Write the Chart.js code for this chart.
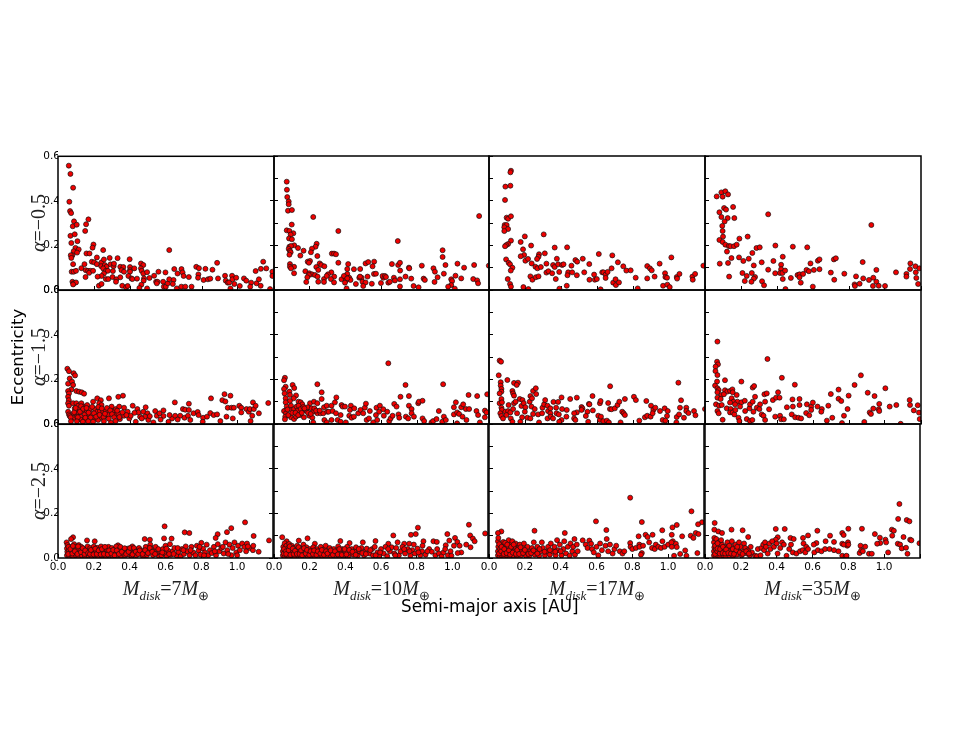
<!DOCTYPE html>
<html>
<head>
<meta charset="utf-8">
<title>Eccentricity vs semi-major axis</title>
<script src="https://cdn.jsdelivr.net/npm/chart.js@4"></script>
<style>
  html, body { margin: 0; padding: 0; background: #fff; }
  body { position: relative; width: 969px; height: 749px; overflow: hidden; }
  canvas { position: absolute; }
  .lbl { position: absolute; white-space: nowrap; color: #000; }
  .sans { font-family: "DejaVu Sans", sans-serif; font-size: 16.4px; }
  .math { font-family: "Liberation Serif", serif; font-size: 20px; color: #222; }
  .math sub { font-size: 13px; line-height: 0; }
  .alpha { transform: translate(-50%, -50%) rotate(-90deg); font-size: 20px; }
  .mass { transform: translateX(-50%); }
</style>
</head>
<body>
<script>
// [semi-major axis, eccentricity], row = alpha, column = disk mass
const a05_m7 = [[.06,.558],[.069,.521],[.084,.459],[.063,.396],[.067,.354],[.073,.345],[.089,.308],[.082,.286],[.104,.293],[.069,.243],[.093,.25],[.169,.317],[.156,.295],[.151,.265],[.074,.211],[.108,.219],[.097,.189],[.115,.182],[.087,.174],[.106,.168],[.08,.156],[.071,.156],[.074,.144],[.084,.116],[.076,.082],[.087,.082],[.1,.086],[.08,.037],[.087,.03],[.1,.034],[.084,.025],[.197,.204],[.192,.19],[.158,.164],[.175,.164],[.251,.179],[.216,.146],[.13,.098],[.147,.116],[.154,.089],[.167,.086],[.18,.086],[.173,.077],[.195,.086],[.153,.058],[.188,.127],[.201,.124],[.216,.116],[.242,.124],[.255,.137],[.287,.144],[.331,.143],[.24,.107],[.26,.112],[.27,.104],[.251,.097],[.266,.086],[.277,.086],[.255,.074],[.242,.063],[.266,.049],[.22,.06],[.227,.019],[.242,.027],[.279,.049],[.292,.115],[.309,.107],[.311,.118],[.305,.085],[.303,.058],[.324,.048],[.322,.037],[.346,.057],[.346,.104],[.363,.103],[.353,.089],[.367,.082],[.398,.138],[.4,.103],[.4,.089],[.4,.082],[.391,.063],[.408,.052],[.424,.097],[.413,.049],[.439,.051],[.357,.019],[.378,.012],[.387,.018],[.461,.119],[.474,.112],[.461,.097],[.465,.086],[.474,.074],[.478,.052],[.495,.08],[.476,.042],[.463,.024],[.452,.009],[.495,.007],[.508,.054],[.534,.064],[.558,.082],[.545,.037],[.553,.037],[.549,.03],[.584,.037],[.597,.079],[.588,.015],[.599,.015],[.61,.03],[.618,.048],[.642,.045],[.638,.027],[.646,.094],[.664,.074],[.66,.007],[.686,.094],[.692,.079],[.698,.063],[.685,.015],[.707,.015],[.618,.179],[.727,.058],[.742,.015],[.768,.104],[.783,.098],[.78,.07],[.778,.055],[.819,.095],[.809,.045],[.833,.048],[.846,.051],[.858,.091],[.884,.122],[.889,.052],[.928,.064],[.932,.042],[.943,.033],[.951,.034],[.958,.007],[.967,.064],[.969,.048],[.99,.055],[.98,.027],[1.01,.018],[1.033,.052],[1.046,.042],[1.073,.033],[1.068,.015],[1.098,.085],[1.103,.03],[1.116,.048],[1.126,.019],[1.127,.095],[1.14,.127],[1.157,.097],[1.178,.004],[1.191,.082],[1.191,.063]];
const a05_m10 = [[.071,.485],[.072,.449],[.074,.416],[.082,.396],[.082,.384],[.078,.355],[.1,.358],[.219,.327],[.099,.293],[.071,.267],[.086,.264],[.108,.254],[.093,.248],[.084,.231],[.1,.227],[.113,.2],[.086,.194],[.095,.197],[.134,.188],[.082,.184],[.089,.175],[.093,.169],[.086,.158],[.238,.207],[.232,.194],[.212,.185],[.206,.169],[.165,.176],[.147,.154],[.242,.152],[.359,.264],[.323,.163],[.335,.163],[.346,.16],[.359,.122],[.255,.119],[.264,.112],[.281,.106],[.236,.103],[.089,.116],[.112,.104],[.089,.104],[.095,.097],[.112,.075],[.188,.127],[.201,.13],[.195,.122],[.175,.084],[.197,.075],[.212,.07],[.229,.067],[.243,.06],[.195,.067],[.186,.057],[.18,.036],[.247,.037],[.247,.09],[.279,.049],[.279,.036],[.32,.079],[.301,.07],[.294,.063],[.336,.06],[.318,.049],[.335,.034],[.377,.048],[.396,.06],[.409,.072],[.409,.094],[.414,.116],[.39,.063],[.42,.055],[.401,.042],[.427,.045],[.409,.052],[.396,.033],[.446,.093],[.481,.094],[.457,.027],[.476,.055],[.489,.055],[.48,.06],[.494,.037],[.511,.034],[.498,.018],[.522,.06],[.511,.119],[.526,.125],[.559,.127],[.55,.106],[.558,.072],[.569,.073],[.546,.028],[.597,.031],[.61,.055],[.606,.063],[.619,.063],[.625,.058],[.638,.033],[.647,.037],[.658,.116],[.693,.112],[.703,.122],[.691,.219],[.704,.087],[.669,.055],[.675,.043],[.703,.048],[.703,.016],[.734,.06],[.753,.1],[.755,.097],[.766,.051],[.779,.018],[.807,.012],[.825,.109],[.835,.051],[.842,.045],[.89,.097],[.898,.082],[.896,.036],[.913,.057],[.941,.178],[.941,.148],[.957,.112],[.948,.073],[.989,.048],[.994,.04],[.989,.022],[.972,.015],[1.009,.006],[1.013,.064],[1.024,.118],[1.061,.1],[1.045,.052],[1.117,.112],[1.112,.049],[1.134,.043],[1.139,.03],[1.145,.331],[1.199,.109],[.405,.007]];
const a05_m17 = [[.122,.534],[.119,.527],[.091,.463],[.119,.467],[.089,.403],[.098,.324],[.106,.319],[.122,.33],[.087,.291],[.098,.291],[.085,.281],[.106,.273],[.085,.264],[.122,.221],[.106,.206],[.096,.201],[.089,.196],[.199,.24],[.176,.215],[.304,.249],[.234,.199],[.189,.182],[.365,.19],[.434,.191],[.31,.164],[.278,.16],[.275,.149],[.267,.139],[.195,.157],[.176,.151],[.202,.131],[.217,.139],[.095,.137],[.109,.122],[.117,.115],[.13,.1],[.121,.087],[.104,.049],[.117,.027],[.122,.015],[.191,.013],[.219,.004],[.237,.119],[.258,.104],[.269,.097],[.288,.103],[.319,.118],[.23,.061],[.241,.046],[.26,.057],[.275,.061],[.319,.078],[.33,.084],[.351,.075],[.356,.112],[.365,.103],[.377,.14],[.384,.115],[.39,.081],[.371,.049],[.406,.112],[.414,.115],[.44,.079],[.436,.066],[.432,.019],[.391,.006],[.458,.109],[.462,.079],[.48,.134],[.49,.127],[.488,.066],[.521,.14],[.529,.079],[.557,.116],[.558,.046],[.584,.069],[.588,.046],[.599,.049],[.61,.161],[.629,.079],[.636,.079],[.648,.069],[.648,.054],[.659,.081],[.62,.003],[.681,.097],[.685,.155],[.69,.033],[.703,.048],[.705,.022],[.722,.034],[.716,.124],[.746,.106],[.763,.087],[.787,.088],[.815,.055],[.826,.007],[.879,.107],[.879,.052],[.894,.097],[.904,.088],[.92,.06],[.948,.118],[.967,.019],[.978,.075],[.98,.058],[.989,.055],[.991,.024],[1.004,.013],[1.013,.146],[1.043,.058],[1.045,.051],[1.058,.072],[1.13,.06],[1.132,.046],[1.145,.072],[1.191,.109]];
const a05_m35 = [[.065,.419],[.091,.437],[.098,.418],[.113,.442],[.128,.428],[.106,.367],[.117,.36],[.156,.372],[.08,.348],[.091,.327],[.126,.322],[.109,.307],[.163,.322],[.096,.287],[.098,.264],[.1,.239],[.08,.224],[.098,.215],[.113,.203],[.132,.197],[.141,.196],[.161,.196],[.176,.203],[.191,.23],[.237,.239],[.122,.172],[.147,.143],[.189,.146],[.213,.13],[.243,.14],[.263,.166],[.286,.188],[.304,.191],[.351,.339],[.391,.199],[.488,.194],[.568,.191],[.38,.13],[.432,.149],[.315,.124],[.271,.11],[.082,.118],[.128,.121],[.134,.06],[.208,.076],[.232,.063],[.221,.04],[.26,.076],[.278,.058],[.271,.051],[.258,.037],[.351,.091],[.317,.039],[.328,.021],[.39,.075],[.423,.113],[.423,.093],[.417,.076],[.43,.076],[.445,.087],[.432,.049],[.447,.004],[.477,.054],[.514,.067],[.525,.07],[.525,.057],[.545,.072],[.532,.033],[.564,.09],[.577,.084],[.586,.119],[.605,.09],[.599,.015],[.627,.131],[.636,.137],[.636,.093],[.699,.078],[.716,.137],[.727,.142],[.718,.046],[.774,.073],[.831,.025],[.833,.018],[.839,.061],[.859,.028],[.876,.125],[.879,.052],[.911,.045],[.924,.291],[.935,.055],[.933,.018],[.952,.09],[.952,.037],[.965,.019],[1,.018],[1.061,.079],[1.119,.072],[1.119,.06],[1.141,.119],[1.169,.106],[1.139,.094],[1.171,.079],[1.191,.097],[1.174,.054],[1.184,.027]];

const a15_m7 = [[.052,.248],[.061,.237],[.087,.228],[.095,.218],[.065,.204],[.056,.181],[.078,.19],[.084,.175],[.074,.155],[.056,.148],[.061,.137],[.056,.122],[.06,.107],[.056,.093],[.061,.082],[.056,.055],[.061,.043],[.065,.036],[.076,.025],[.084,.093],[.093,.07],[.087,.048],[.102,.093],[.112,.082],[.102,.058],[.115,.048],[.093,.028],[.106,.033],[.121,.067],[.13,.093],[.143,.078],[.136,.058],[.149,.043],[.125,.033],[.102,.148],[.117,.145],[.132,.142],[.145,.136],[.13,.018],[.149,.018],[.162,.085],[.162,.058],[.173,.033],[.177,.067],[.186,.045],[.195,.1],[.218,.115],[.238,.107],[.229,.093],[.242,.085],[.205,.067],[.218,.055],[.233,.058],[.207,.025],[.223,.018],[.251,.055],[.266,.058],[.244,.028],[.26,.036],[.283,.115],[.279,.04],[.294,.007],[.298,.078],[.307,.058],[.322,.067],[.316,.04],[.34,.078],[.335,.048],[.335,.122],[.361,.127],[.367,.073],[.344,.022],[.367,.037],[.387,.055],[.396,.025],[.415,.082],[.404,.037],[.432,.01],[.441,.067],[.456,.033],[.447,.052],[.474,.055],[.487,.075],[.497,.048],[.484,.033],[.502,.018],[.53,.007],[.54,.058],[.549,.037],[.564,.048],[.586,.061],[.586,.036],[.614,.01],[.634,.025],[.649,.097],[.651,.037],[.679,.037],[.694,.067],[.707,.064],[.703,.028],[.727,.091],[.727,.063],[.722,.037],[.735,.018],[.753,.048],[.776,.054],[.781,.04],[.806,.028],[.804,.01],[.828,.033],[.85,.115],[.846,.049],[.865,.04],[.884,.043],[.902,.013],[.913,.107],[.925,.134],[.93,.101],[.958,.127],[.936,.033],[.943,.073],[.964,.073],[.977,.073],[.971,.025],[1.007,.082],[1.018,.073],[1.018,.052],[1.047,.067],[1.06,.055],[1.066,.067],[1.083,.097],[1.088,.067],[1.098,.082],[1.116,.048],[1.079,.037],[1.07,.013],[1.168,.094],
  [.07,.03],[.09,.053],[.098,.072],[.11,.03],[.122,.055],[.128,.08],[.14,.068],[.152,.028],[.158,.072],[.17,.051],[.181,.029],[.19,.077],[.2,.048],[.212,.033],[.224,.076],[.231,.041],[.243,.07],[.253,.031],[.261,.046],[.272,.072],[.282,.024],[.29,.061],[.3,.044],[.312,.03],[.329,.06],[.341,.031],[.358,.052],[.072,.012],[.105,.012],[.138,.01],[.168,.012],[.195,.01],[.255,.012],[.32,.013],[.38,.04],[.425,.05],[.465,.025],[.51,.035],[.57,.02],[.62,.04],[.665,.02]];
const a15_m10 = [[.061,.207],[.056,.196],[.065,.167],[.056,.157],[.104,.175],[.113,.161],[.059,.137],[.086,.145],[.089,.13],[.123,.128],[.065,.115],[.11,.115],[.089,.103],[.065,.097],[.071,.078],[.095,.082],[.061,.058],[.056,.058],[.067,.048],[.063,.033],[.061,.021],[.095,.03],[.112,.022],[.123,.033],[.099,.063],[.112,.067],[.126,.078],[.137,.1],[.149,.097],[.158,.088],[.137,.082],[.13,.058],[.149,.067],[.164,.076],[.173,.063],[.145,.04],[.167,.03],[.182,.058],[.201,.093],[.188,.075],[.21,.07],[.197,.037],[.219,.055],[.214,.028],[.219,.007],[.223,.1],[.242,.178],[.266,.142],[.266,.112],[.242,.093],[.242,.048],[.26,.048],[.279,.075],[.275,.048],[.281,.018],[.294,.007],[.294,.082],[.297,.055],[.305,.055],[.321,.082],[.327,.058],[.321,.018],[.34,.097],[.348,.119],[.346,.048],[.355,.018],[.372,.04],[.377,.085],[.383,.078],[.372,.01],[.396,.078],[.401,.007],[.42,.037],[.429,.082],[.424,.063],[.433,.028],[.446,.033],[.448,.07],[.47,.048],[.483,.063],[.498,.048],[.507,.073],[.513,.091],[.535,.058],[.517,.018],[.53,.025],[.554,.007],[.572,.073],[.576,.018],[.569,.04],[.591,.082],[.587,.055],[.61,.066],[.632,.055],[.638,.272],[.613,.037],[.643,.013],[.651,.025],[.671,.09],[.684,.078],[.662,.037],[.695,.043],[.699,.028],[.734,.175],[.706,.122],[.753,.125],[.753,.082],[.768,.067],[.736,.033],[.749,.025],[.768,.048],[.781,.033],[.805,.093],[.809,.1],[.829,.104],[.829,.025],[.838,.013],[.879,.007],[.888,.013],[.907,.022],[.92,.058],[.944,.178],[.939,.01],[.948,.033],[.959,.018],[1.004,.075],[1.015,.097],[1.004,.043],[1.022,.052],[1.022,.003],[1.033,.045],[1.045,.075],[1.056,.088],[1.052,.033],[1.071,.067],[1.089,.067],[1.074,.018],[1.086,.13],[1.134,.125],[1.13,.058],[1.139,.04],[1.149,.007],[1.177,.06],[1.19,.133],[1.186,.052],[1.177,.03],
  [.075,.065],[.08,.04],[.102,.05],[.12,.05],[.135,.04],[.155,.05],[.17,.07],[.19,.05],[.205,.045],[.225,.07],[.235,.06],[.255,.06]];
const a15_m17 = [[.059,.284],[.067,.279],[.054,.218],[.102,.197],[.139,.184],[.161,.185],[.154,.175],[.065,.187],[.065,.172],[.069,.157],[.069,.145],[.059,.137],[.13,.148],[.134,.137],[.139,.127],[.069,.112],[.059,.093],[.072,.097],[.069,.073],[.072,.063],[.063,.048],[.069,.036],[.078,.025],[.091,.055],[.109,.085],[.106,.058],[.097,.04],[.119,.052],[.121,.025],[.13,.01],[.134,.067],[.139,.093],[.148,.1],[.156,.048],[.174,.01],[.184,.03],[.171,.112],[.18,.081],[.186,.107],[.193,.093],[.202,.075],[.199,.055],[.213,.028],[.23,.025],[.226,.1],[.23,.125],[.239,.115],[.245,.148],[.26,.16],[.262,.134],[.236,.078],[.254,.067],[.245,.045],[.273,.043],[.278,.007],[.295,.048],[.297,.073],[.306,.088],[.312,.107],[.325,.082],[.328,.058],[.341,.07],[.341,.048],[.325,.025],[.343,.033],[.358,.099],[.384,.099],[.373,.073],[.375,.048],[.356,.025],[.388,.043],[.406,.067],[.403,.119],[.403,.018],[.39,.01],[.432,.063],[.43,.033],[.451,.112],[.488,.118],[.488,.052],[.473,.048],[.473,.025],[.48,.018],[.514,.076],[.519,.07],[.514,.063],[.547,.055],[.538,.036],[.555,.09],[.558,.088],[.551,.01],[.575,.125],[.577,.061],[.607,.037],[.616,.018],[.622,.033],[.616,.093],[.62,.103],[.635,.013],[.655,.015],[.666,.007],[.662,.094],[.673,.169],[.672,.067],[.681,.066],[.699,.07],[.714,.085],[.724,.1],[.74,.055],[.748,.048],[.755,.04],[.755,.112],[.731,.007],[.805,.122],[.816,.107],[.835,.015],[.874,.103],[.866,.03],[.879,.037],[.898,.033],[.9,.082],[.913,.063],[.924,.073],[.909,.048],[.95,.058],[.976,.07],[.965,.018],[.98,.015],[.993,.058],[.989,.036],[1.041,.007],[1.043,.031],[1.056,.043],[1.061,.073],[1.067,.106],[1.052,.185],[1.083,.028],[1.096,.073],[1.096,.058],[1.108,.049],[1.139,.058],[1.147,.039],[1.2,.067]];
const a15_m35 = [[.069,.369],[.067,.279],[.072,.267],[.059,.257],[.058,.237],[.069,.219],[.067,.19],[.111,.196],[.202,.19],[.347,.291],[.427,.207],[.499,.176],[.056,.172],[.069,.16],[.076,.152],[.069,.142],[.111,.151],[.124,.145],[.139,.148],[.152,.155],[.154,.142],[.176,.13],[.091,.13],[.069,.118],[.087,.112],[.105,.133],[.148,.115],[.158,.1],[.18,.1],[.202,.097],[.221,.104],[.061,.088],[.078,.082],[.093,.085],[.139,.096],[.167,.088],[.069,.058],[.076,.048],[.121,.07],[.143,.067],[.139,.052],[.154,.052],[.163,.043],[.169,.063],[.098,.019],[.186,.028],[.191,.013],[.195,.078],[.223,.058],[.232,.022],[.247,.07],[.25,.088],[.265,.1],[.278,.122],[.265,.163],[.273,.17],[.25,.013],[.263,.018],[.269,.055],[.288,.073],[.302,.067],[.306,.088],[.315,.043],[.325,.037],[.334,.018],[.33,.133],[.343,.137],[.334,.1],[.356,.066],[.377,.107],[.39,.033],[.395,.118],[.414,.118],[.406,.142],[.417,.037],[.423,.021],[.438,.021],[.455,.075],[.482,.043],[.486,.11],[.488,.078],[.501,.03],[.519,.028],[.534,.025],[.525,.112],[.525,.085],[.562,.049],[.566,.088],[.579,.039],[.59,.078],[.59,.063],[.599,.096],[.625,.078],[.649,.067],[.646,.055],[.677,.015],[.685,.082],[.699,.134],[.707,.028],[.742,.154],[.742,.113],[.757,.103],[.761,.004],[.772,.037],[.792,.067],[.798,.127],[.831,.175],[.866,.218],[.885,.009],[.904,.14],[.915,.052],[.922,.045],[.935,.069],[.942,.125],[.968,.09],[.965,.066],[.968,.058],[1.002,.16],[1.026,.078],[1.063,.085],[1.087,.001],[1.137,.107],[1.139,.085],[1.16,.061],[1.182,.084],[1.189,.051],[1.193,.022]];

const a25_m7 = [[.595,.142],[.707,.115],[.733,.112],[.891,.107],[.88,.09],[.943,.116],[.967,.134],[1.044,.16],[1.092,.099],[1.178,.079],[.484,.085],[.513,.082],[.592,.088],[.634,.087],[.084,.093],[.073,.085],[.162,.079],[.205,.075],[.048,.07],[.335,.057],[.415,.052],
  [.05,.012],[.052,.028],[.05,.043],[.053,.058],[.062,.008],[.065,.022],[.06,.036],[.066,.05],[.075,.014],[.073,.03],[.078,.044],[.09,.062],[.085,.007],[.09,.022],[.088,.037],[.098,.05],[.1,.012],[.104,.03],[.11,.043],[.116,.058],[.115,.006],[.122,.02],[.125,.036],[.13,.05],[.134,.01],[.14,.028],[.145,.042],[.15,.009],[.155,.022],[.16,.038],[.165,.052],[.17,.012],[.175,.03],[.18,.045],[.187,.007],[.19,.024],[.195,.038],[.2,.052],[.205,.012],[.213,.03],[.218,.046],[.223,.008],[.23,.022],[.235,.037],[.24,.052],[.247,.011],[.252,.028],[.258,.042],[.265,.008],[.27,.022],[.275,.037],[.282,.05],[.287,.012],[.293,.03],[.3,.045],[.305,.008],[.312,.022],[.318,.038],[.325,.052],[.33,.012],[.337,.03],[.345,.04],[.352,.008],[.36,.02],[.368,.034],[.375,.012],[.383,.03],[.39,.042],[.398,.015],[.405,.03],[.412,.008],[.42,.024],[.428,.038],[.437,.012],[.445,.03],[.452,.045],[.46,.018],[.468,.034],[.475,.007],[.482,.025],[.49,.05],[.497,.013],[.505,.03],[.515,.06],[.52,.042],[.53,.013],[.535,.03],[.545,.05],[.553,.018],[.565,.006],[.57,.03],[.578,.012],[.585,.04],[.595,.02],[.6,.055],[.607,.008],[.615,.033],[.625,.062],[.63,.015],[.64,.03],[.65,.045],[.662,.012],[.672,.027],[.685,.007],[.692,.04],[.703,.018],[.713,.052],[.722,.03],[.735,.012],[.745,.05],[.755,.025],[.767,.012],[.775,.055],[.785,.033],[.795,.015],[.8,.068],[.81,.042],[.82,.025],[.83,.06],[.838,.012],[.848,.035],[.858,.022],[.87,.05],[.882,.012],[.892,.062],[.9,.03],[.912,.045],[.925,.02],[.935,.07],[.945,.035],[.957,.06],[.968,.012],[.975,.045],[.985,.07],[.995,.025],[1.005,.055],[1.015,.035],[1.028,.065],[1.04,.05],[1.05,.03],[1.055,.065],[1.07,.045],[1.088,.035],[1.09,.055],[1.12,.028],
  [.057,.018],[.058,.05],[.069,.04],[.08,.02],[.083,.054],[.094,.03],[.108,.018],[.112,.052],[.128,.026],[.138,.044],[.148,.018],[.152,.034],[.168,.022],[.178,.018],[.184,.036],[.198,.016],[.208,.042],[.216,.018],[.227,.034],[.238,.016],[.245,.04],[.256,.018],[.262,.05],[.278,.016],[.285,.034],[.298,.02],[.308,.036],[.316,.012],[.328,.034],[.34,.018],[.348,.05],[.356,.028],[.372,.044],[.38,.018],[.394,.028],[.402,.045],[.416,.016],[.424,.045],[.434,.028],[.448,.018],[.456,.034],[.472,.018],[.486,.035],[.502,.022],[.512,.045],[.526,.028],[.542,.018],[.56,.04],[.582,.025],[.605,.042],[.62,.018],[.645,.018],[.668,.045],[.7,.035],[.74,.035],[.79,.05],[.815,.012],[.875,.03],[.92,.05],[.95,.018],[1.0,.012],[1.06,.052]];
const a25_m10 = [[.046,.093],[1.093,.149],[1.1,.101],[1.115,.087],[1.125,.075],[1.184,.11],[.807,.136],[.795,.107],[.768,.104],[.669,.101],[.972,.107],[1.015,.09],[.983,.078],[1.028,.072],[1.041,.055],[1.078,.06],[1.102,.048],[.139,.078],[.188,.088],[.071,.075],[.229,.064],[.372,.076],[.424,.067],[.498,.07],[.569,.076],[.641,.064],[.693,.07],[.73,.064],[.758,.064],[.784,.06],[.838,.075],[.833,.055],[.894,.075],[.913,.072],[.963,.057],[1.009,.055],[1.05,.025],[1.03,.022],
  [.05,.012],[.05,.03],[.052,.05],[.06,.066],[.06,.007],[.064,.022],[.063,.04],[.07,.055],[.072,.012],[.076,.03],[.08,.045],[.085,.063],[.085,.007],[.09,.022],[.095,.038],[.1,.055],[.1,.012],[.107,.03],[.112,.045],[.115,.008],[.12,.022],[.125,.038],[.13,.055],[.135,.012],[.14,.03],[.147,.045],[.15,.007],[.155,.022],[.16,.038],[.165,.06],[.172,.012],[.176,.03],[.182,.048],[.19,.008],[.195,.022],[.2,.04],[.208,.012],[.214,.03],[.22,.048],[.227,.008],[.232,.024],[.24,.04],[.25,.012],[.255,.03],[.262,.05],[.27,.008],[.277,.022],[.283,.04],[.29,.055],[.297,.012],[.305,.03],[.312,.045],[.32,.008],[.327,.024],[.335,.04],[.345,.012],[.352,.03],[.36,.052],[.368,.008],[.375,.022],[.382,.04],[.392,.012],[.4,.03],[.41,.05],[.418,.01],[.427,.024],[.435,.04],[.445,.015],[.452,.03],[.46,.048],[.47,.012],[.48,.03],[.49,.045],[.505,.012],[.51,.028],[.52,.042],[.535,.02],[.55,.04],[.555,.012],[.565,.05],[.58,.025],[.59,.01],[.6,.04],[.615,.02],[.625,.05],[.635,.008],[.65,.03],[.66,.048],[.675,.02],[.685,.045],[.7,.012],[.71,.03],[.72,.05],[.735,.02],[.75,.04],[.765,.01],[.775,.035],[.79,.02],[.805,.042],[.82,.012],[.83,.03],[.85,.015],[.87,.04],[.885,.028],[.905,.012],[.915,.04],[.925,.02],[.94,.008],[.95,.025],[.96,.04],[.975,.012],[.99,.03],[.995,.01],
  [.055,.02],[.056,.04],[.067,.03],[.068,.018],[.082,.035],[.088,.052],[.092,.014],[.105,.042],[.11,.018],[.118,.032],[.128,.018],[.138,.048],[.143,.018],[.152,.034],[.158,.012],[.168,.044],[.178,.02],[.185,.036],[.198,.014],[.205,.03],[.218,.018],[.225,.034],[.238,.014],[.246,.03],[.26,.02],[.268,.036],[.28,.014],[.292,.03],[.3,.02],[.318,.034],[.33,.014],[.342,.03],[.358,.016],[.366,.04],[.38,.014],[.396,.04],[.406,.016],[.422,.036],[.44,.028],[.458,.014],[.475,.04],[.495,.022],[.515,.018],[.54,.035],[.57,.012],[.595,.025],[.64,.04],[.68,.012],[.73,.04],[.76,.03],[.81,.025],[.86,.03]];
const a25_m17 = [[.788,.27],[.597,.164],[.853,.161],[1.13,.209],[1.189,.16],[1.167,.151],[1.048,.148],[1.024,.137],[.967,.124],[.655,.125],[.254,.122],[.069,.119],[.05,.112],[.423,.112],[.477,.085],[.523,.079],[.657,.085],[.835,.097],[.874,.104],[.913,.104],[.885,.094],[1.078,.097],[1.126,.1],[1.154,.112],[1.169,.107],[1.141,.09],[1.02,.104],[1.026,.075],[.968,.075],[.56,.078],[.57,.064],[.788,.067],[.839,.06],[.894,.07],[.931,.06],[1.043,.064],[1.048,.049],[1.163,.022],[1.095,.034],[1.067,.018],[1.033,.01],[1.102,.01],[.853,.022],[.848,.015],
  [.05,.012],[.05,.03],[.052,.05],[.05,.075],[.052,.09],[.06,.007],[.064,.022],[.062,.04],[.065,.06],[.072,.012],[.075,.03],[.078,.05],[.08,.072],[.085,.008],[.09,.022],[.09,.04],[.095,.06],[.1,.012],[.104,.03],[.108,.05],[.11,.08],[.115,.008],[.12,.022],[.122,.04],[.126,.062],[.13,.075],[.135,.012],[.14,.03],[.145,.05],[.148,.065],[.155,.01],[.16,.025],[.165,.045],[.172,.06],[.178,.012],[.184,.03],[.19,.045],[.195,.065],[.205,.012],[.21,.028],[.215,.05],[.225,.01],[.23,.03],[.24,.045],[.25,.07],[.255,.015],[.262,.03],[.27,.05],[.28,.01],[.288,.03],[.295,.07],[.3,.045],[.312,.012],[.32,.03],[.33,.05],[.34,.015],[.345,.065],[.355,.03],[.365,.05],[.372,.012],[.38,.08],[.385,.035],[.395,.06],[.405,.012],[.415,.04],[.42,.075],[.43,.02],[.44,.05],[.45,.01],[.455,.065],[.465,.03],[.47,.05],[.48,.015],[.49,.06],[.495,.03],[.54,.06],[.55,.045],[.575,.04],[.585,.025],[.6,.05],[.61,.012],[.62,.065],[.63,.035],[.65,.055],[.665,.03],[.675,.06],[.69,.02],[.7,.04],[.71,.055],[.73,.03],[.745,.02],[.755,.03],[.79,.05],[.8,.04],[.82,.045],[.84,.05],[.86,.055],[.91,.045],[.925,.04],[.945,.05],[.96,.045],[.98,.05],[1,.06],[1.018,.07],[1.02,.05],
  [.056,.02],[.057,.062],[.068,.03],[.07,.05],[.082,.018],[.085,.04],[.09,.068],[.098,.022],[.102,.06],[.112,.034],[.118,.015],[.124,.05],[.132,.024],[.138,.06],[.15,.018],[.158,.036],[.168,.018],[.176,.048],[.19,.022],[.2,.036],[.22,.018],[.235,.022],[.248,.034],[.27,.02],[.282,.04],[.31,.028],[.34,.035],[.37,.028],[.4,.03]];
const a25_m35 = [[1.085,.242],[1.078,.175],[1.126,.17],[1.141,.164],[.054,.157],[.052,.127],[.074,.119],[.095,.112],[.148,.127],[.21,.124],[.241,.094],[.395,.13],[.445,.13],[.406,.093],[.395,.082],[.477,.09],[.495,.085],[.547,.09],[.575,.101],[.627,.122],[.622,.067],[.607,.06],[.698,.1],[.673,.075],[.72,.072],[.8,.131],[.766,.112],[.774,.103],[.798,.07],[.766,.064],[.794,.055],[.876,.131],[.948,.107],[.976,.091],[1.007,.082],[1.011,.07],[.978,.067],[.961,.064],[.894,.051],[.868,.055],[1.043,.127],[1.054,.122],[1.108,.094],[1.045,.1],[1.076,.064],[1.089,.06],[1.098,.043],[1.122,.046],[1.145,.082],[1.152,.079],[1.197,.066],[1.022,.025],[1.13,.019],[.915,.019],[.931,.019],[.863,.022],[.872,.034],[.881,.03],[.766,.01],[.785,.007],
  [.05,.012],[.05,.03],[.052,.048],[.05,.07],[.052,.09],[.06,.007],[.063,.022],[.06,.04],[.065,.06],[.063,.085],[.072,.012],[.075,.03],[.078,.05],[.08,.072],[.085,.008],[.09,.022],[.09,.04],[.095,.06],[.09,.08],[.102,.012],[.105,.03],[.11,.05],[.115,.008],[.12,.025],[.125,.045],[.125,.07],[.135,.012],[.14,.03],[.148,.05],[.15,.075],[.158,.01],[.165,.03],[.17,.06],[.178,.015],[.185,.035],[.19,.07],[.198,.05],[.205,.012],[.215,.03],[.218,.065],[.225,.045],[.235,.02],[.24,.035],[.25,.012],[.255,.05],[.262,.025],[.28,.01],[.29,.008],[.295,.04],[.31,.012],[.315,.045],[.325,.06],[.33,.035],[.335,.07],[.34,.05],[.35,.02],[.36,.065],[.365,.04],[.375,.075],[.385,.05],[.4,.065],[.405,.02],[.42,.045],[.43,.07],[.44,.06],[.455,.01],[.47,.04],[.48,.06],[.49,.025],[.51,.02],[.53,.03],[.545,.035],[.55,.065],[.56,.025],[.565,.05],[.575,.04],[.61,.025],[.63,.035],[.65,.03],[.67,.04],[.695,.04],[.72,.035],[.745,.03],[.775,.06],[.8,.06],[.79,.01],
  [.056,.018],[.057,.055],[.068,.03],[.07,.042],[.07,.066],[.082,.02],[.084,.04],[.098,.022],[.1,.05],[.112,.02],[.118,.038],[.13,.022],[.135,.055],[.145,.02],[.155,.04],[.162,.018],[.175,.035],[.18,.05],[.195,.025],[.21,.018],[.23,.03],[.245,.02]];

const panels = [
  [a05_m7, a05_m10, a05_m17, a05_m35],
  [a15_m7, a15_m10, a15_m17, a15_m35],
  [a25_m7, a25_m10, a25_m17, a25_m35]
];
const alphaLabels = ['\u22120.5', '\u22121.5', '\u22122.5'];
const massLabels = ['7', '10', '17', '35'];

const panelLefts = [58, 274, 489, 705];
const panelWidths = [216, 215, 216, 216];
const panelTops = [156, 290, 424];
const panelH = 134;
const mLeft = 40, mTop = 8, mRight = 6, mBottom = 22;

// frame around each panel, all four sides
const framePlugin = {
  id: 'frame',
  afterDatasetsDraw(chart) {
    const { ctx, chartArea: c } = chart;
    ctx.save();
    ctx.strokeStyle = '#000';
    ctx.lineWidth = 1.5;
    ctx.strokeRect(c.left, c.top, c.right - c.left, c.bottom - c.top);
    ctx.restore();
  }
};

const tickFont = { family: '"DejaVu Sans", sans-serif', size: 10.5 };

function makePanel(row, col) {
  const cv = document.createElement('canvas');
  const w = panelWidths[col] + mLeft + mRight;
  const h = panelH + mTop + mBottom;
  cv.width = w;
  cv.height = h;
  cv.style.left = (panelLefts[col] - mLeft) + 'px';
  cv.style.top = (panelTops[row] - mTop) + 'px';
  cv.style.width = w + 'px';
  cv.style.height = h + 'px';
  document.body.appendChild(cv);

  const scales = {
    x: {
      type: 'linear', min: 0, max: 1.2,
      border: { display: false },
      grid: { drawOnChartArea: false, color: '#000', lineWidth: 1, tickLength: -4 },
      ticks: {
        display: row === 2, stepSize: 0.2, autoSkip: false, maxRotation: 0, padding: 7,
        color: '#000', font: tickFont,
        callback: v => (v > 1.1 ? '' : v.toFixed(1))
      },
      afterFit: s => { s.height = mBottom; }
    },
    y: {
      type: 'linear', min: 0, max: 0.6,
      border: { display: false },
      // the first column has no ticks on its left side, only labels
      grid: { display: col !== 0, drawOnChartArea: false, color: '#000', lineWidth: 1, tickLength: -4 },
      ticks: {
        display: col === 0, stepSize: col === 0 ? 0.2 : 0.1, autoSkip: false, padding: 2,
        color: '#000', font: tickFont,
        callback: v => v.toFixed(1)
      },
      afterFit: s => { s.width = mLeft; }
    }
  };
  if (col === 0) {
    scales.yr = {
      type: 'linear', position: 'right', min: 0, max: 0.6,
      border: { display: false },
      grid: { drawOnChartArea: false, color: '#000', lineWidth: 1, tickLength: -4 },
      ticks: { display: false, stepSize: 0.2 },
      afterFit: s => { s.width = 0; }
    };
  }

  new Chart(cv, {
    type: 'scatter',
    data: {
      datasets: [{
        data: panels[row][col].map(p => ({ x: p[0], y: p[1] })),
        backgroundColor: '#f00000',
        borderColor: '#111',
        borderWidth: 0.7,
        pointRadius: 2.5,
        clip: 0
      }]
    },
    options: {
      responsive: false,
      animation: false,
      devicePixelRatio: 1,
      layout: { padding: { top: mTop, right: mRight, left: 0, bottom: 0 } },
      plugins: { legend: { display: false }, tooltip: { enabled: false } },
      scales: scales
    },
    plugins: [framePlugin]
  });
}

for (let r = 0; r < 3; r++) {
  for (let c = 0; c < 4; c++) makePanel(r, c);
}

function addLabel(cls, html, left, top) {
  const d = document.createElement('div');
  d.className = 'lbl ' + cls;
  d.innerHTML = html;
  d.style.left = left + 'px';
  d.style.top = top + 'px';
  document.body.appendChild(d);
  return d;
}

const alphaCenters = [223, 357, 491];
alphaLabels.forEach((t, i) => {
  addLabel('math alpha', '<i>\u03b1</i>=' + t, 38, alphaCenters[i]);
});

const massCenters = [166, 381.5, 597, 812.5];
massLabels.forEach((m, i) => {
  addLabel('math mass', '<i>M</i><sub><i>disk</i></sub>=' + m + '<i>M</i><sub>\u2295</sub>', massCenters[i], 577);
});

const xlab = addLabel('sans', 'Semi-major axis [AU]', 401, 596);
xlab.style.fontSize = '16.8px';
const ecc = addLabel('sans', 'Eccentricity', 17, 357);
ecc.style.transform = 'translate(-50%, -50%) rotate(-90deg)';
</script>
</body>
</html>
